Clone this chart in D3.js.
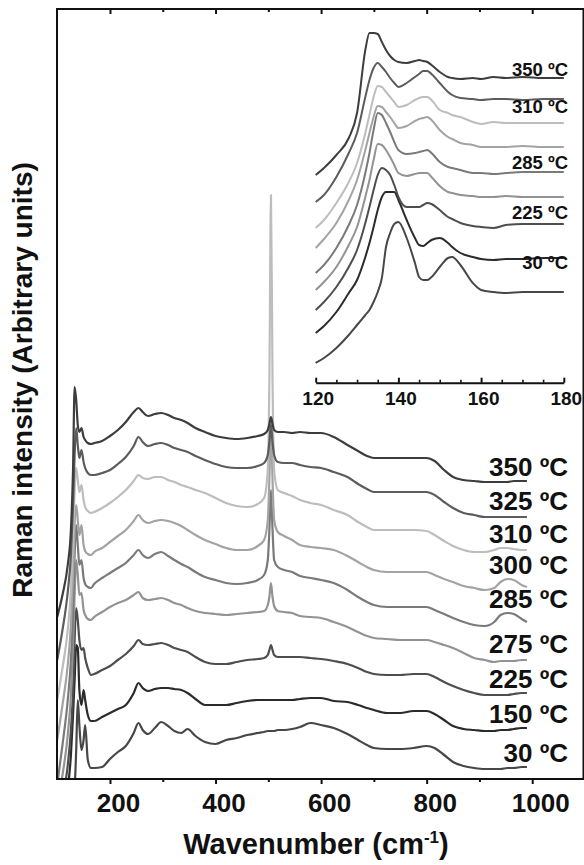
<!DOCTYPE html>
<html><head><meta charset="utf-8">
<script src="https://cdn.jsdelivr.net/npm/d3@7"></script>
<style>
body{margin:0;background:#fff}
svg{display:block}
text{font-family:"Liberation Sans",Arial,sans-serif;font-weight:bold;fill:#111}
</style>
</head><body>
<svg id="c" width="584" height="865"></svg>
<script>
// ---------- DATA ----------
const temperatures = ["30 ºC","150 ºC","225 ºC","275 ºC","285 ºC","300 ºC","310 ºC","325 ºC","350 ºC"];

const wavenumbers = [100,110,120,126,130,133,136,139,142,146,150,153,158,164,170,185,200,215,230,245,254,262,272,285,297,310,322,335,347,362,380,400,420,440,460,480,492,499,502,505,508,511,518,530,545,560,580,600,624,650,670,687,700,725,750,775,800,815,833,850,870,890,910,928,940,953,965,980,990];

const s30  = [100,120,150,170,190,210,250,300,275,250,260,275,240,232,232,233,241,248,254,267,277,270,266,272,278,274,269,267,271,264,258,256,260,262,265,267,268,269,269,269,269,269,270,270,271,273,277,275,272,266,260,255,252,251,251,252,254,252,245,238,234,232,231,231,231,232,232,233,233];
const s150 = [140,170,210,245,285,320,355,352,310,295,310,300,285,279,279,283,287,291,295,307,317,312,309,311,312,312,311,310,307,301,295,295,295,297,299,300,300,300,300,300,300,300,300,300,300,301,302,302,299,298,295,292,290,287,287,289,289,286,280,274,271,270,269,269,270,270,271,272,272];
const s225 = [170,200,235,270,310,360,392,380,360,350,352,342,332,325,326,330,334,340,346,354,360,356,355,356,357,355,352,350,348,343,338,336,336,338,340,341,342,345,350,355,350,345,343,343,343,343,342,341,339,336,332,328,326,325,325,326,326,323,318,314,310,307,305,305,305,305,306,307,307];
const s275 = [195,225,265,305,355,405,440,425,405,407,390,385,381,380,383,388,393,397,400,405,408,402,400,401,402,400,397,395,392,389,387,386,385,386,387,388,389,395,403,417,403,394,389,388,387,384,383,382,378,373,368,364,362,361,360,360,360,358,355,352,347,342,340,338,339,339,339,340,340];
const s285 = [215,255,300,340,390,445,475,455,435,440,422,416,413,412,416,422,427,432,437,445,450,445,442,446,448,444,440,436,433,428,423,420,417,416,417,420,425,440,470,510,470,440,433,430,428,424,422,420,417,410,403,398,395,393,393,393,393,390,386,382,378,375,374,378,385,387,386,381,378];
const s300 = [260,295,335,375,425,475,495,480,465,475,455,449,446,445,448,452,458,464,470,479,485,480,477,479,480,479,477,474,470,465,460,456,452,450,450,454,460,480,520,580,520,480,468,464,460,455,453,452,450,444,438,433,430,428,428,428,428,425,421,418,414,412,410,412,418,421,420,415,413];
const s310 = [300,332,370,410,460,510,532,520,508,515,500,493,489,487,488,492,497,503,510,519,525,522,521,523,523,520,518,515,513,510,507,502,497,494,493,496,502,530,620,805,620,530,510,507,504,500,497,495,490,485,478,473,470,470,470,470,469,465,459,454,450,448,448,450,452,452,451,450,450];
const s325 = [340,370,408,445,495,545,572,555,542,550,538,532,527,525,525,527,530,536,543,554,563,558,554,556,557,555,552,550,548,544,540,536,533,532,532,534,537,545,558,575,558,545,538,537,537,535,533,532,528,523,516,511,508,508,508,508,508,505,498,492,487,485,483,483,483,483,483,483,483];
const s350 = [383,405,435,470,530,613,600,575,568,572,563,560,557,556,557,559,564,570,578,588,592,588,584,586,587,585,582,580,577,572,568,564,562,561,562,564,566,570,576,583,576,570,568,568,567,568,567,567,563,555,549,544,542,542,542,542,542,539,530,523,520,519,518,518,518,518,519,519,519];

const insetWavenumbers = [120,122,125,128,130,132,133,134,135,136,137,138,139,140,142,144,145,146,147,148,150,152,153,155,158,160,163,166,170,175,180];
const i30  = [37,42,52,65,75,85,90,98,108,122,153,167,176,178,162,137,123,120,120,123,133,142,143,135,117,110,108,107,108,108,108];
const i150 = [67,74,88,107,120,143,157,173,190,203,208,208,208,200,180,162,155,154,157,160,162,157,153,147,143,141,140,141,141,142,142];
const i225 = [90,98,113,133,150,177,193,210,225,232,230,225,215,203,193,193,193,195,197,196,190,183,181,177,174,173,172,175,176,176,176];
const i275 = [110,118,133,155,173,203,220,240,256,255,250,243,235,227,224,226,227,227,227,223,214,208,207,205,204,203,203,204,203,203,203];
const i285 = [127,135,152,175,195,227,247,270,287,285,277,268,258,250,246,247,248,249,250,247,238,233,232,230,227,227,226,227,228,228,228];
const i300 = [152,161,177,200,220,250,267,283,294,293,288,283,277,272,274,279,281,282,283,280,270,263,261,257,255,253,253,253,254,253,253];
const i310 = [172,180,197,218,237,267,285,303,314,313,308,303,298,293,295,300,302,303,303,300,290,287,285,283,278,276,278,277,277,277,277];
const i325 = [198,205,223,247,267,303,320,332,337,333,328,322,317,313,317,323,326,329,329,326,317,308,305,302,301,300,301,301,300,301,301];
const i350 = [225,232,245,262,287,350,367,367,366,358,350,344,340,338,337,339,340,339,338,335,328,323,322,321,322,321,323,322,323,322,322];

const insetLabelled = ["30 ºC","225 ºC","285 ºC","310 ºC","350 ºC"];

const mainTicks = [200,400,600,800,1000];
const mainMinorTicks = [300,500,700,900];
const insetTicks = [120,140,160,180];
const insetMinorTicks = [125,130,135,145,150,155,165,170,175];

const xTitle = "Wavenumber (cm";
const yTitle = "Raman intensity (Arbitrary units)";

// ---------- STYLE / LAYOUT ----------
const mainSeries = [s30,s150,s225,s275,s285,s300,s310,s325,s350];
const insetSeries = [i30,i150,i225,i275,i285,i300,i310,i325,i350];
const lineColors = ["#474747","#2b2b2b","#4e4e4e","#939393","#7a7a7a","#a3a3a3","#bdbdbd","#5c5c5c","#3d3d3d"];

const svg = d3.select("#c");
const L = 57, R = 583.5, T = 9, B = 779;

const x = d3.scaleLinear().domain([100,1100]).range([57.2,585]);
const y = d3.scaleLinear().domain([221,991]).range([B,T]);

svg.append("defs").append("clipPath").attr("id","clip")
  .append("rect").attr("x",L).attr("y",T).attr("width",R-L).attr("height",B-T);

const line = d3.line().x(d=>x(d[0])).y(d=>y(d[1])).curve(d3.curveMonotoneX);

const gLines = svg.append("g").attr("clip-path","url(#clip)");
mainSeries.forEach((s,i)=>{
  gLines.append("path")
    .datum(wavenumbers.map((w,j)=>[w,s[j]]))
    .attr("d",line).attr("fill","none")
    .attr("stroke",lineColors[i]).attr("stroke-width",2.2)
    .attr("stroke-linejoin","round");
});

// frame
svg.append("rect").attr("x",L).attr("y",T).attr("width",R-L).attr("height",B-T)
  .attr("fill","none").attr("stroke","#111").attr("stroke-width",2);

// bottom axis
const gx = svg.append("g").attr("transform",`translate(0,${B})`)
  .call(d3.axisBottom(x).tickValues(mainTicks).tickSize(5).tickSizeOuter(0).tickFormat(d3.format("d")));
gx.select(".domain").remove();
gx.selectAll(".tick line").attr("stroke","#111").attr("stroke-width",2);
gx.selectAll(".tick text").attr("dy",null).attr("y",33).attr("dx",8)
  .style("font-size","26px").style("font-weight","bold").attr("fill","#111");
svg.append("g").attr("transform",`translate(0,${B})`)
  .call(d3.axisBottom(x).tickValues(mainMinorTicks).tickSize(3).tickFormat(""))
  .call(g=>g.select(".domain").remove())
  .selectAll("line").attr("stroke","#111").attr("stroke-width",2);

// top axis (inward ticks)
svg.append("g").attr("transform",`translate(0,${T})`)
  .call(d3.axisTop(x).tickValues(mainTicks).tickSize(-5).tickFormat(""))
  .call(g=>g.select(".domain").remove())
  .selectAll("line").attr("stroke","#111").attr("stroke-width",2);
svg.append("g").attr("transform",`translate(0,${T})`)
  .call(d3.axisTop(x).tickValues(mainMinorTicks).tickSize(-3).tickFormat(""))
  .call(g=>g.select(".domain").remove())
  .selectAll("line").attr("stroke","#111").attr("stroke-width",2);

// main labels
mainSeries.forEach((s,i)=>{
  const tail = d3.max(s.slice(-8));
  svg.append("text").attr("x",568).attr("y",y(tail)-14+9.3)
    .attr("text-anchor","end").style("font-size","26px")
    .text(temperatures[i]);
});

// axis titles
const xt = svg.append("text").attr("x",316).attr("y",854).attr("text-anchor","middle")
  .style("font-size","29px");
xt.append("tspan").text(xTitle);
xt.append("tspan").attr("dy",-11).style("font-size","17px").text("-1");
xt.append("tspan").attr("dy",11).text(")");

svg.append("text").attr("transform","translate(22,380) rotate(-90)")
  .attr("text-anchor","middle").attr("dy","0.35em").style("font-size","28px")
  .text(yTitle);

// ---------- INSET ----------
const xi = d3.scaleLinear().domain([120,180]).range([315.7,563.8]);
const yi = d3.scaleLinear().domain([0,400]).range([400,0]);
const linei = d3.line().x(d=>xi(d[0])).y(d=>yi(d[1])).curve(d3.curveMonotoneX);
insetSeries.forEach((s,i)=>{
  svg.append("path")
    .datum(insetWavenumbers.map((w,j)=>[w,s[j]]))
    .attr("d",linei).attr("fill","none")
    .attr("stroke",lineColors[i]).attr("stroke-width",2)
    .attr("stroke-linejoin","round");
});
const IY = 382.7;
const gi = svg.append("g").attr("transform",`translate(0,${IY})`)
  .call(d3.axisBottom(xi).tickValues(insetTicks).tickSize(-5).tickSizeOuter(0).tickFormat(d3.format("d")));
gi.select(".domain").attr("stroke","#111").attr("stroke-width",2);
gi.selectAll(".tick line").attr("stroke","#111").attr("stroke-width",2);
gi.selectAll(".tick text").attr("dy",null).attr("y",22).attr("dx",2)
  .style("font-size","19px").style("font-weight","bold").attr("fill","#111");
svg.append("g").attr("transform",`translate(0,${IY})`)
  .call(d3.axisBottom(xi).tickValues(insetMinorTicks).tickSize(-3).tickFormat(""))
  .call(g=>g.select(".domain").remove())
  .selectAll("line").attr("stroke","#111").attr("stroke-width",1.6);

const insetLift = {"30 ºC":21,"225 ºC":3,"285 ºC":1,"310 ºC":8,"350 ºC":0};
insetSeries.forEach((s,i)=>{
  const name = temperatures[i];
  if(!insetLabelled.includes(name)) return;
  const tail = s[s.length-1];
  svg.append("text").attr("x",568).attr("y",yi(tail)-2-insetLift[name])
    .attr("text-anchor","end").style("font-size","18.5px").text(name);
});
</script>
</body></html>
